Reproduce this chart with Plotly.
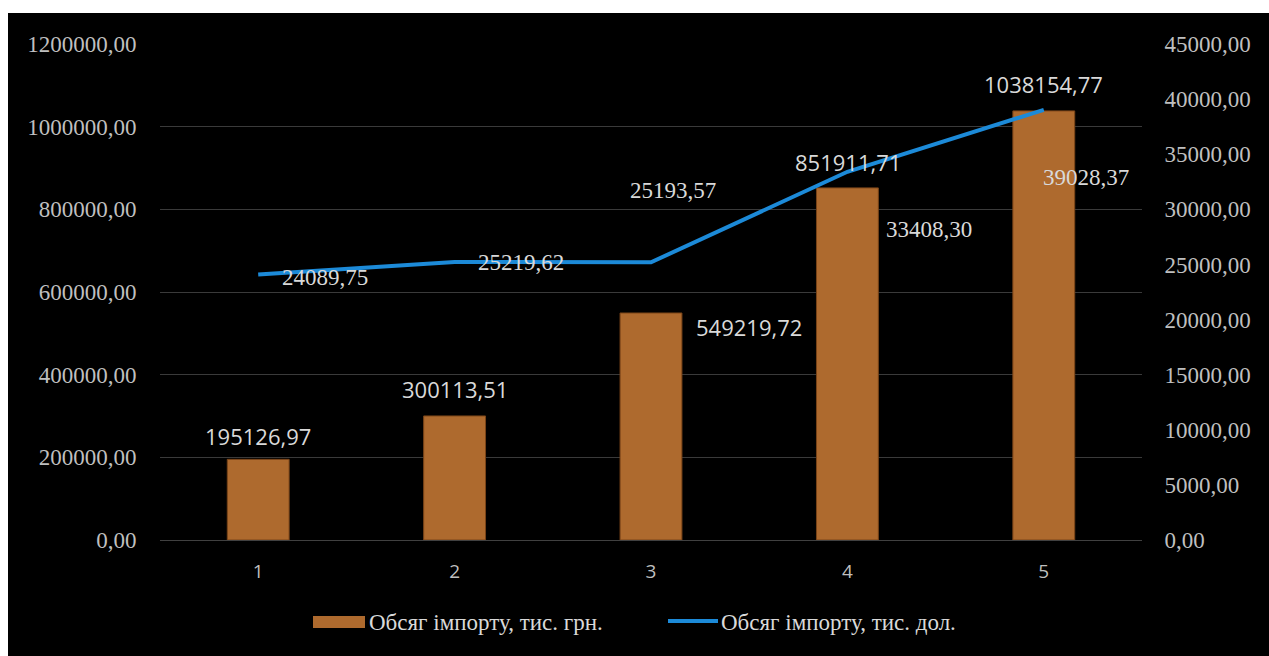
import plotly.graph_objects as go

# Import volumes by period
categories = ["1", "2", "3", "4", "5"]
import_uah = [195126.97, 300113.51, 549219.72, 851911.71, 1038154.77]   # тис. грн.
import_usd = [24089.75, 25219.62, 25193.57, 33408.30, 39028.37]         # тис. дол.

left_ticks = [0, 200000, 400000, 600000, 800000, 1000000, 1200000]
right_ticks = [0, 5000, 10000, 15000, 20000, 25000, 30000, 35000, 40000, 45000]

series_names = ["Обсяг імпорту, тис. грн.", "Обсяг імпорту, тис. дол."]

# label offsets in pixels (xshift, yshift)
bar_label_offsets = [(0, 23), (0, 27), (98, -14), (1, 26), (0, 27)]
line_label_offsets = [(67, -3), (66, 0), (22, 72), (82, -58), (42, -68)]

BAR_COLOR = "#AE6A2E"
LINE_COLOR = "#1C8AD8"
SERIF = "Liberation Serif, Times New Roman, serif"
SANS = "Open Sans, Calibri, sans-serif"
TICK_COLOR = "#BFBFBF"
LABEL_COLOR = "#D9D9D9"

# plot area in pixels, used to place the hand-drawn legend and background
PL, PR, PT, PB = 160, 1142, 44, 540
W, H = PR - PL, PB - PT


def fmt(v):
    return f"{v:.2f}".replace(".", ",")


def px(x):
    return (x - PL) / W


def py(y):
    return (PB - y) / H


fig = go.Figure()

fig.add_trace(go.Bar(
    x=categories, y=import_uah,
    name=series_names[0],
    marker=dict(color=BAR_COLOR, line=dict(color="#7a4418", width=1)),
    yaxis="y",
))

fig.add_trace(go.Scatter(
    x=categories, y=import_usd,
    name=series_names[1],
    mode="lines",
    line=dict(color=LINE_COLOR, width=4),
    yaxis="y2",
))

annotations = []
for i, (v, (dx, dy)) in enumerate(zip(import_uah, bar_label_offsets)):
    annotations.append(dict(
        x=i, y=v, xref="x", yref="y", text=fmt(v), showarrow=False,
        xshift=dx, yshift=dy, font=dict(family=SANS, size=22, color=LABEL_COLOR),
    ))
for i, (v, (dx, dy)) in enumerate(zip(import_usd, line_label_offsets)):
    annotations.append(dict(
        x=i, y=v, xref="x", yref="y2", text=fmt(v), showarrow=False,
        xshift=dx, yshift=dy, font=dict(family=SERIF, size=23, color=LABEL_COLOR),
    ))

# legend entries
legend_font = dict(family=SERIF, size=23, color=LABEL_COLOR)
annotations.append(dict(x=px(367), y=py(622), xref="paper", yref="paper",
                        text=series_names[0], showarrow=False,
                        xanchor="left", yanchor="middle", font=legend_font))
annotations.append(dict(x=px(719), y=py(622), xref="paper", yref="paper",
                        text=series_names[1], showarrow=False,
                        xanchor="left", yanchor="middle", font=legend_font))

shapes = [
    dict(type="rect", xref="paper", yref="paper",
         x0=px(8), x1=px(1275), y0=py(660), y1=py(13),
         fillcolor="black", line=dict(width=0), layer="below"),
    dict(type="rect", xref="paper", yref="paper",
         x0=px(313), x1=px(365), y0=py(628), y1=py(616),
         fillcolor=BAR_COLOR, line=dict(width=0)),
    dict(type="line", xref="paper", yref="paper",
         x0=px(668), x1=px(718), y0=py(621), y1=py(621),
         line=dict(color=LINE_COLOR, width=4)),
]

fig.update_layout(
    width=1269, height=656,
    margin=dict(l=PL, r=1269 - PR, t=PT, b=656 - PB),
    paper_bgcolor="white",
    plot_bgcolor="black",
    bargap=0.685,
    showlegend=False,
    xaxis=dict(
        type="category", range=[-0.5, 4.5],
        showgrid=False, showline=True, linecolor="#404040", linewidth=1,
        ticks="outside", ticklen=14, tickcolor="rgba(0,0,0,0)",
        tickfont=dict(family=SANS, size=19, color=TICK_COLOR),
    ),
    yaxis=dict(
        range=[0, 1200000], tickvals=left_ticks,
        ticktext=[fmt(v) for v in left_ticks],
        showgrid=True, gridcolor="#3A3A3A", gridwidth=1,
        zeroline=False, showline=False,
        ticks="outside", ticklen=18, tickcolor="rgba(0,0,0,0)",
        tickfont=dict(family=SERIF, size=23, color=TICK_COLOR),
    ),
    yaxis2=dict(
        range=[0, 45000], tickvals=right_ticks,
        ticktext=[fmt(v) for v in right_ticks],
        overlaying="y", side="right", showgrid=False, zeroline=False,
        ticks="outside", ticklen=17, tickcolor="rgba(0,0,0,0)",
        tickfont=dict(family=SERIF, size=23, color=TICK_COLOR),
    ),
    annotations=annotations,
    shapes=shapes,
)

fig.write_html("out.html")
